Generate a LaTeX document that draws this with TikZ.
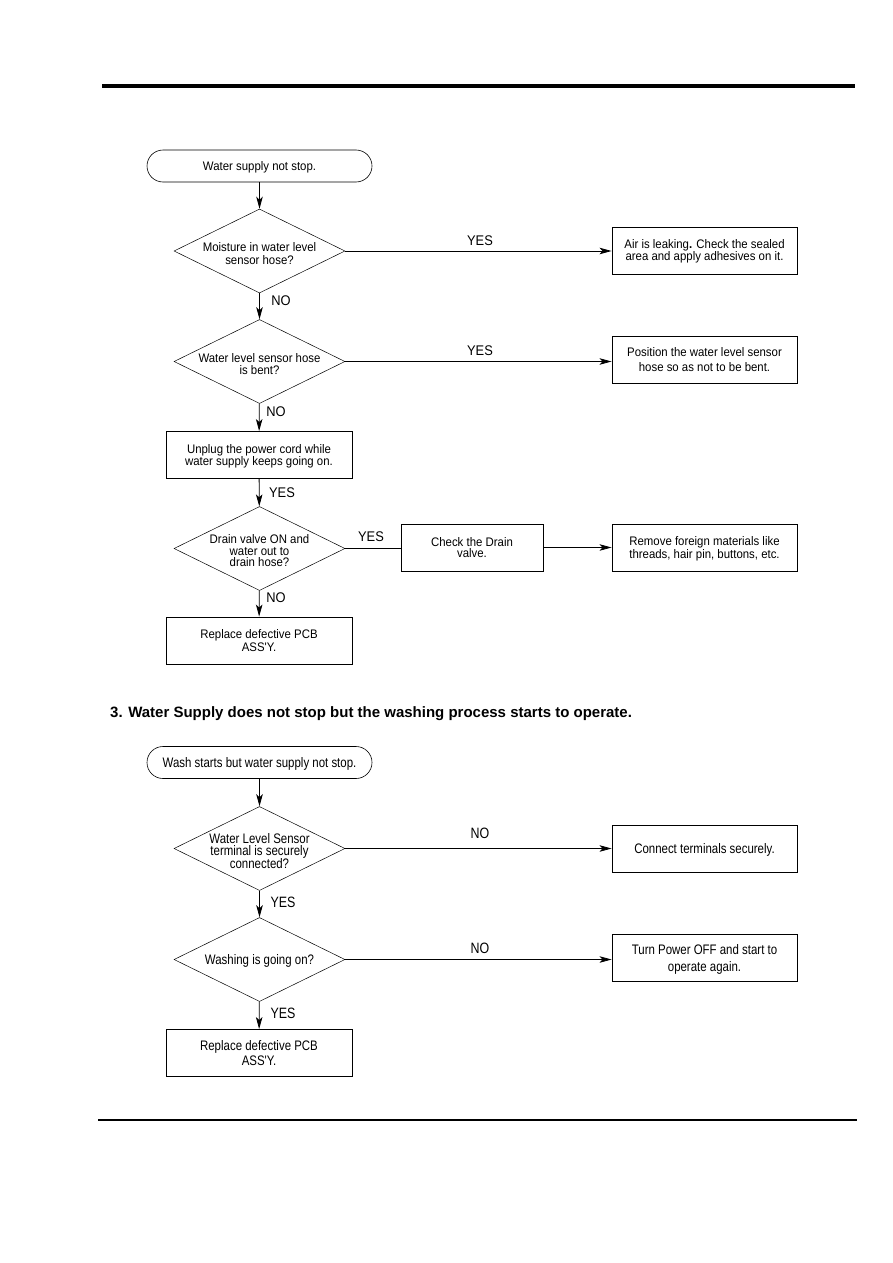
\documentclass[tikz,border=0pt]{standalone}
\usepackage{fontspec}
\setmainfont{Liberation Sans}
\newfontfamily\fa[FakeStretch=0.92]{Liberation Sans}
\newfontfamily\fb[FakeStretch=0.83]{Liberation Sans}
\usetikzlibrary{shapes.geometric,arrows.meta}
\tikzset{
  boxnode/.style={draw, line width=0.9pt, inner sep=0pt, align=center, text depth=-1.5pt, font=\fa\fontsize{12.4}{12}\selectfont},
  leftbox/.style={boxnode, minimum width=186pt, minimum height=47pt},
  rightbox/.style={boxnode, minimum width=185pt, minimum height=47pt},
  term/.style={draw, line width=0.6pt, rounded corners=16pt, minimum width=225pt, minimum height=32pt, inner sep=0pt, text depth=-1pt, font=\fa\fontsize{12.4}{13}\selectfont},
  dia/.style={draw, diamond, line width=0.5pt, minimum width=171pt, minimum height=84pt, inner sep=0pt},
  dtext/.style={align=center, inner sep=0pt, yshift=-2.5pt, font=\fa\fontsize{12.4}{12.5}\selectfont},
  lbl/.style={inner sep=0pt, font=\fa\fontsize{14}{15}\selectfont},
  lblb/.style={inner sep=0pt, font=\fb\fontsize{15}{15}\selectfont},
  fontB/.style={font=\fb\fontsize{13.8}{#1}\selectfont},
  arr/.style={line width=0.8pt, -{Stealth[length=12pt,width=6.5pt,inset=3pt]}},
  ln/.style={line width=0.8pt}
}
\begin{document}
\begin{tikzpicture}[x=1pt,y=-1pt]
\useasboundingbox (0,0) rectangle (893,1263);
\fill[white] (0,0) rectangle (893,1263);
% page rules
\draw[line width=4pt] (102,86) -- (855,86);
\draw[line width=2pt] (98,1120) -- (857,1120);

% ---------- first chart ----------
\node[term] (t1) at (259.5,166) {Water supply not stop.};
\node[dia] (d1) at (259.5,251) {};
\node[dtext] (d1t) at (d1) {Moisture in water level\\sensor hose?};
\node[rightbox] (a1) at (704.5,250.5) {Air is leaking\textbf{.} Check the sealed\\area and apply adhesives on it.};
\node[dia] (d2) at (259.5,361.5) {};
\node[dtext] (d2t) at (d2) {Water level sensor hose\\is bent?};
\node[rightbox, font=\fa\fontsize{12.4}{15.7}\selectfont] (a2) at (704.5,359.5) {Position the water level sensor\\hose so as not to be bent.};
\node[leftbox] (u1) at (259,455) {Unplug the power cord while\\water supply keeps going on.};
\node[dia] (d3) at (259.5,548.5) {};
\node[dtext, font=\fa\fontsize{12.4}{11.5}\selectfont] (d3t) at (d3) {Drain valve ON and\\water out to\\drain hose?};
\node[boxnode, minimum width=142pt, minimum height=47pt, font=\fa\fontsize{12.4}{11}\selectfont] (cd) at (472,547.5) {Check the Drain\\valve.};
\node[rightbox, font=\fa\fontsize{12.4}{13.3}\selectfont] (rm) at (704.5,547.5) {Remove foreign materials like\\threads, hair pin, buttons, etc.};
\node[leftbox, font=\fa\fontsize{12.4}{11}\selectfont] (r1) at (259,640.5) {Replace defective PCB\\ASS'Y.};

\draw[arr] (t1) -- (d1);
\draw[arr] (d1.east) -- (d1.east -| a1.west);
\draw[arr] (d1) -- (d2);
\draw[arr] (d2.east) -- (d2.east -| a2.west);
\draw[arr] (d2) -- (u1);
\draw[arr] (u1) -- (d3);
\draw[ln] (d3.east) -- (d3.east -| cd.west);
\draw[arr] (cd) -- (rm);
\draw[arr] (d3) -- (r1);

\node[lbl] (y1) at (480,241) {YES};
\node[lbl] (n1) at (281,301) {NO};
\node[lbl] (y2) at (480,351) {YES};
\node[lbl] (n2) at (276,412) {NO};
\node[lbl] (y3) at (282,493) {YES};
\node[lbl] (y4) at (371,537) {YES};
\node[lbl] (n3) at (276,598) {NO};

% ---------- heading ----------
\node[anchor=west, inner sep=0pt, font=\bfseries\fontsize{15}{17}\selectfont] (h3) at (110,714) {3. Water Supply does not stop but the washing process starts to operate.};

% ---------- second chart ----------
\node[term, fontB=14] (t2) at (259.5,762.5) {Wash starts but water supply not stop.};
\node[dia] (d4) at (259.5,848.5) {};
\node[dtext, fontB=12] (d4t) at (d4) {Water Level Sensor\\terminal is securely\\connected?};
\node[rightbox, fontB=14] (c4) at (704.5,848.5) {Connect terminals securely.};
\node[dia] (d5) at (259.5,959.5) {};
\node[dtext, fontB=14, yshift=1.5pt] (d5t) at (d5) {Washing is going on?};
\node[rightbox, fontB=16.3] (c5) at (704.5,958) {Turn Power OFF and start to\\operate again.};
\node[leftbox, fontB=15.7] (r2) at (259,1053) {Replace defective PCB\\ASS'Y.};

\draw[arr] (t2) -- (d4);
\draw[arr] (d4.east) -- (d4.east -| c4.west);
\draw[arr] (d4) -- (d5);
\draw[arr] (d5.east) -- (d5.east -| c5.west);
\draw[arr] (d5) -- (r2);

\node[lblb] (n4) at (480,833) {NO};
\node[lblb] (y5) at (283,902) {YES};
\node[lblb] (n5) at (480,948) {NO};
\node[lblb] (y6) at (283,1013) {YES};
\end{tikzpicture}
\end{document}
